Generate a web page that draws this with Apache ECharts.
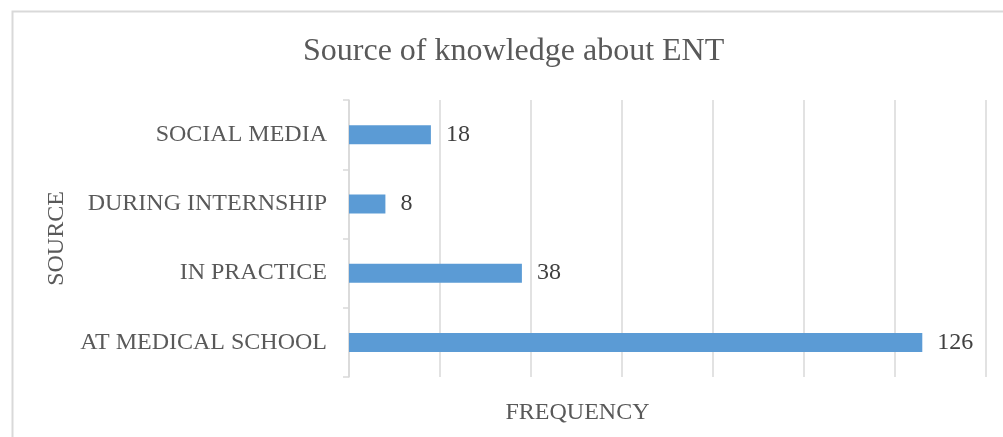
<!DOCTYPE html>
<html>
<head>
<meta charset="utf-8">
<script src="https://cdn.jsdelivr.net/npm/echarts@6/dist/echarts.min.js"></script>
<style>
html,body{margin:0;padding:0;background:#fff;}
#main{width:1003px;height:437px;}
</style>
</head>
<body>
<div id="main"></div>
<script>
// 数据
var categories = ['AT MEDICAL SCHOOL', 'IN PRACTICE', 'DURING INTERNSHIP', 'SOCIAL MEDIA'];
var frequency = [126, 38, 8, 18];

var serif = '"Liberation Serif", "Times New Roman", serif';

var myChart = echarts.init(document.getElementById('main'));

var option = {
    backgroundColor: '#fff',
    animation: false,
    title: {
        text: 'Source of knowledge about ENT',
        left: 298,
        top: 31,
        textStyle: {
            fontFamily: serif,
            fontSize: 32,
            fontWeight: 'normal',
            color: '#595959'
        }
    },
    graphic: [{
        type: 'rect',
        left: 10,
        top: 9,
        shape: {width: 1010, height: 440},
        style: {fill: 'none', stroke: '#d9d9d9', lineWidth: 2},
        silent: true
    }],
    grid: {
        left: 349,
        right: 17,
        top: 100,
        bottom: 60
    },
    xAxis: {
        type: 'value',
        min: 0,
        max: 140,
        interval: 20,
        name: 'FREQUENCY',
        nameLocation: 'middle',
        nameGap: 24,
        nameTextStyle: {
            fontFamily: serif,
            fontSize: 24,
            color: '#595959',
            padding: [0, 180, 0, 0]   // 标题偏左
        },
        axisLabel: {show: false},
        axisLine: {show: false},
        axisTick: {show: false},
        splitLine: {lineStyle: {color: '#d9d9d9', width: 1.5}}
    },
    yAxis: {
        type: 'category',
        data: categories,
        name: 'SOURCE',
        nameLocation: 'middle',
        nameGap: 280,
        nameRotate: 90,
        nameTextStyle: {
            fontFamily: serif,
            fontSize: 24,
            color: '#595959'
        },
        axisLine: {show: true, lineStyle: {color: '#d9d9d9', width: 1.5}},
        axisTick: {show: true, length: 6, lineStyle: {color: '#d9d9d9', width: 1.5}},
        axisLabel: {
            margin: 22,
            fontFamily: serif,
            fontSize: 24,
            color: '#595959'
        }
    },
    series: [{
        type: 'bar',
        data: frequency,
        barWidth: 19,
        itemStyle: {color: '#5b9bd5'},
        label: {
            show: true,
            position: 'right',
            distance: 15,
            fontFamily: serif,
            fontSize: 24,
            color: '#404040'
        }
    }]
};

myChart.setOption(option);
</script>
</body>
</html>
